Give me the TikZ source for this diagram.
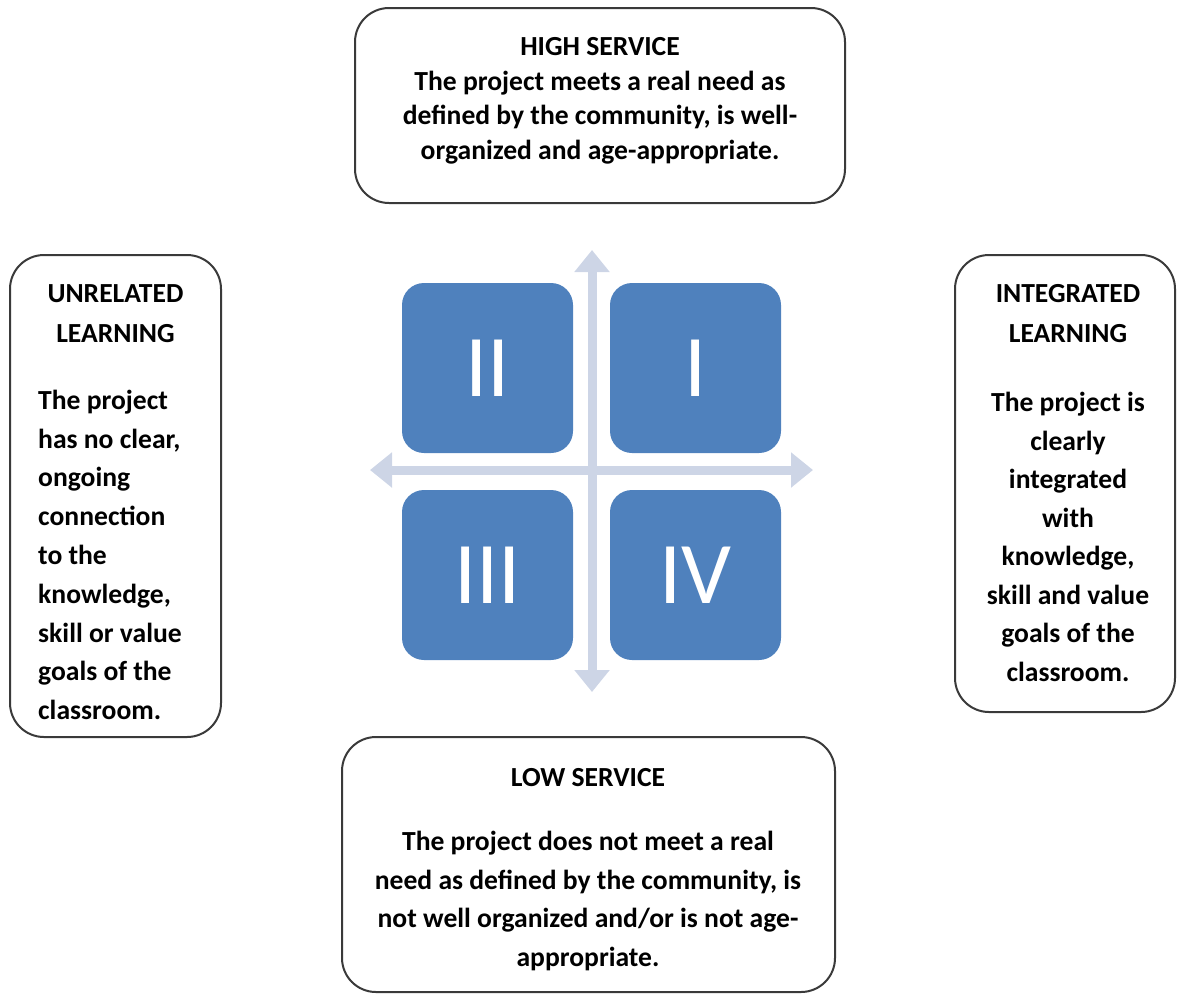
\documentclass[tikz,border=0pt]{standalone}
\usepackage{fontspec}
\setmainfont{Carlito}
\usetikzlibrary{arrows.meta}
\definecolor{quad}{HTML}{4F81BD}
\definecolor{axis}{HTML}{CDD5E6}
\definecolor{frame}{HTML}{3A3A3A}
\tikzset{
  boxframe/.style={draw=frame, line width=2pt, rounded corners=34pt, fill=white},
  quadbox/.style={fill=quad, rounded corners=22pt},
  numeral/.style={text=white, font=\fontsize{88}{90}\selectfont, inner sep=0pt},
  txt/.style={font=\fontsize{27.6}{#1}\selectfont\bfseries, inner sep=0pt, align=center},
  axisline/.style={draw=axis, line width=9pt, {Triangle[width=34pt,length=22pt]}-{Triangle[width=34pt,length=22pt]}}
}
\begin{document}
\begin{tikzpicture}[x=1pt,y=-1pt]
\useasboundingbox (0,0) rectangle (1177,994);
% frames
\draw[boxframe] (355,8) rectangle (845,203);
\draw[boxframe] (10,255) rectangle (221,737);
\draw[boxframe] (955,255) rectangle (1175,712);
\draw[boxframe] (342,737) rectangle (835,992);
% axes
\coordinate (vt) at (592,250);
\coordinate (vb) at (592,692);
\coordinate (hl) at (370,470);
\coordinate (hr) at (813,470);
\draw[axisline] (vt) -- (vb);
\draw[axisline] (hl) -- (hr);
% quadrants
\fill[quadbox] (402,283) rectangle (573,453);
\fill[quadbox] (610,283) rectangle (781,453);
\fill[quadbox] (402,490) rectangle (573,660);
\fill[quadbox] (610,490) rectangle (781,660);
\node[numeral] (q2) at (487.5,368) {II};
\node[numeral] (q1) at (695.5,368) {I};
\node[numeral] (q3) at (487.5,575) {III};
\node[numeral] (q4) at (695.5,575) {IV};
% texts
\node[txt=34.5] (hs) at (600,101) {HIGH SERVICE\\The project meets a real need as\\defined by the community, is well-\\organized and age-appropriate.};
\node[txt=40] (ult) at (115.5,314) {UNRELATED\\LEARNING};
\node[txt=38.8, align=left, anchor=west] (ulb) at (38,555) {The project\\has no clear,\\ongoing\\connection\\to the\\knowledge,\\skill or value\\goals of the\\classroom.};
\node[txt=40] (ilt) at (1068,314) {INTEGRATED\\LEARNING};
\node[txt=38.5] (ilb) at (1068,537) {The project is\\clearly\\integrated\\with\\knowledge,\\skill and value\\goals of the\\classroom.};
\node[txt=39] (lst) at (588,778) {LOW SERVICE};
\node[txt=38.5] (lsb) at (588,901) {The project does not meet a real\\need as defined by the community, is\\not well organized and/or is not age-\\appropriate.};
\end{tikzpicture}
\end{document}
